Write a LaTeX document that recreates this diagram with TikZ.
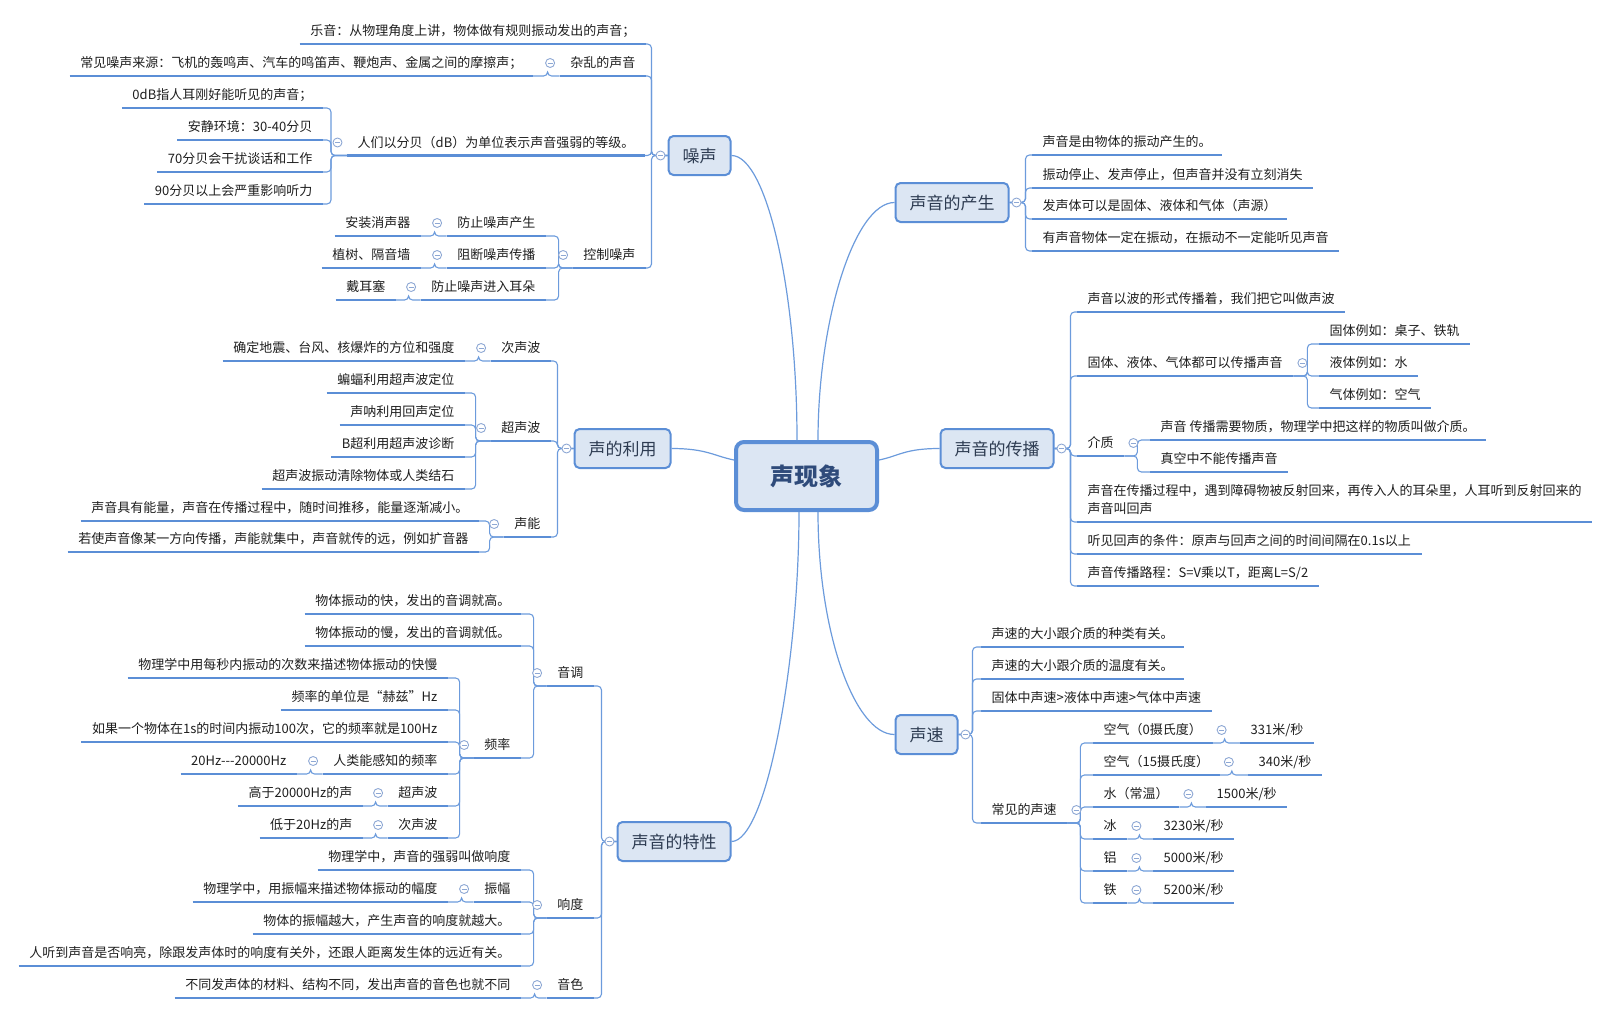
\documentclass[tikz,border=0pt]{standalone}
\usepackage{fontspec}
\setmainfont{Noto Sans CJK SC}
\usepackage{tikz}
\definecolor{lineblue}{HTML}{5B8ED6}
\definecolor{connblue}{HTML}{6C9BDC}
\definecolor{boxfill}{HTML}{DCE6F3}
\definecolor{foldblue}{HTML}{8EA8D4}
\definecolor{leaftext}{HTML}{1E1E1E}
\definecolor{topictext}{HTML}{2E3C52}
\definecolor{roottext}{HTML}{2F4B7A}
\newcommand {\leafl}[4] {\node[leaf, anchor=south east] (#1) at (#2,#3) {#4};
                         \draw[uline] (#1.south west) -- (#1.south east);}
\newcommand {\leafr}[4] {\node[leaf, anchor=south west] (#1) at (#2,#3) {#4};
                         \draw[uline] (#1.south west) -- (#1.south east);}
\newcommand {\linkl}[3] {\draw[conn] (#1.south west) -- ++(-#3,0) |- (#2.south east);}
\newcommand {\linkr}[3] {\draw[conn] (#1.south east) -- ++(#3,0) |- (#2.south west);}
\newcommand {\linkw}[3] {\draw[conn] (#1.west) -- ++(-#3,0) |- (#2.south east);}
\newcommand {\linke}[3] {\draw[conn] (#1.east) -- ++(#3,0) |- (#2.south west);}
\newcommand {\foldl}[1] {\draw[fold] ([shift={(-9.5pt,13pt)}]#1.south west) circle (4.5pt);
                         \draw[foldbar] ([shift={(-12pt,13pt)}]#1.south west) -- ++(5pt,0);}
\newcommand {\foldr}[1] {\draw[fold] ([shift={(9pt,13pt)}]#1.south east) circle (4.5pt);
                         \draw[foldbar] ([shift={(6.5pt,13pt)}]#1.south east) -- ++(5pt,0);}
\newcommand {\foldw}[1] {\draw[fold] ([xshift=-7pt]#1.west) circle (4.5pt);
                         \draw[foldbar] ([xshift=-9.5pt]#1.west) -- ++(5pt,0);}
\newcommand {\folde}[1] {\draw[fold] ([xshift=7pt]#1.east) circle (4.5pt);
                         \draw[foldbar] ([xshift=4.5pt]#1.east) -- ++(5pt,0);}
\begin{document}
\begin{tikzpicture}[x=1pt, y=-1pt,
    leaf/.style={font=\fontsize{13}{18}\selectfont, text=leaftext, inner xsep=10.5pt, inner ysep=4.6pt, text height=10pt, text depth=3.5pt},
    uline/.style={lineblue, line width=2.8pt},
    conn/.style={connblue, line width=1.1pt, rounded corners=4pt},
    mainconn/.style={connblue, line width=1.2pt},
    topic/.style={draw=lineblue, fill=boxfill, line width=2pt, rounded corners=5pt, minimum height=39pt, inner xsep=14pt, text height=15.5pt, text depth=2.5pt, font=\fontsize{17}{20}\selectfont, text=topictext},
    root/.style={draw=lineblue, fill=boxfill, line width=4pt, rounded corners=8pt, minimum width=141pt, minimum height=68pt, text height=21pt, text depth=3pt, font=\fontsize{24}{28}\selectfont\bfseries, text=roottext},
    fold/.style={foldblue, fill=white, line width=0.9pt},
    foldbar/.style={foldblue, line width=0.9pt}]
    \useasboundingbox (0,0) rectangle (1612,1015);
    \node[root] (root) at (806.5,476) {声现象};
    \node[topic] (zaosheng) at (699.5,155.5) {噪声};
    \node[topic] (liyong) at (622.5,448.5) {声的利用};
    \node[topic] (chansheng) at (952,202.5) {声音的产生};
    \node[topic] (chuanbo) at (997,448.5) {声音的传播};
    \node[topic] (shengsu) at (926.5,734.5) {声速};
    \node[topic] (texing) at (674,841.5) {声音的特性};

    \leafl{yueyin}{646}{44}{乐音：从物理角度上讲，物体做有规则振动发出的声音；}
    \leafl{zaluan}{646}{76}{杂乱的声音}
    \leafl{laiyuan}{533}{76}{常见噪声来源：飞机的轰鸣声、汽车的鸣笛声、鞭炮声、金属之间的摩擦声；}
    \leafl{fenbei}{645}{155.5}{人们以分贝（dB）为单位表示声音强弱的等级。}
    \leafl{dbzero}{323}{108}{0dB指人耳刚好能听见的声音；}
    \leafl{anjing}{323}{140}{安静环境：30-40分贝}
    \leafl{qishi}{323}{172}{70分贝会干扰谈话和工作}
    \leafl{jiushi}{323}{204}{90分贝以上会严重影响听力}
    \leafl{kongzhi}{646}{268}{控制噪声}
    \leafl{fangzhi}{546}{236}{防止噪声产生}
    \leafl{xiaosheng}{421}{236}{安装消声器}
    \leafl{zuduan}{546}{268}{阻断噪声传播}
    \leafl{zhishu}{421}{268}{植树、隔音墙}
    \leafl{jinru}{546}{300}{防止噪声进入耳朵}
    \leafl{erse}{396}{300}{戴耳塞}

    \leafl{cishengbo}{551}{361}{次声波}
    \leafl{dizhen}{465}{361}{确定地震、台风、核爆炸的方位和强度}
    \leafl{chaoshengbo}{551}{441}{超声波}
    \leafl{bianfu}{465}{393}{蝙蝠利用超声波定位}
    \leafl{shengna}{465}{425}{声呐利用回声定位}
    \leafl{bchao}{465}{457}{B超利用超声波诊断}
    \leafl{jieshi}{465}{489}{超声波振动清除物体或人类结石}
    \leafl{shengneng}{551}{537}{声能}
    \leafl{nengliang}{479}{521}{声音具有能量，声音在传播过程中，随时间推移，能量逐渐减小。}
    \leafl{kuoyin}{479}{552}{若使声音像某一方向传播，声能就集中，声音就传的远，例如扩音器}

    \leafl{yindiao}{594}{686}{音调}
    \leafl{kuai}{521}{614}{物体振动的快，发出的音调就高。}
    \leafl{man}{521}{646}{物体振动的慢，发出的音调就低。}
    \leafl{pinlv}{521}{758}{频率}
    \leafl{miaonei}{448}{678}{物理学中用每秒内振动的次数来描述物体振动的快慢}
    \leafl{hezi}{448}{710}{频率的单位是“赫兹”Hz}
    \leafl{yibai}{448}{742}{如果一个物体在1s的时间内振动100次，它的频率就是100Hz}
    \leafl{ganzhi}{448}{774}{人类能感知的频率}
    \leafl{fanwei}{297}{774}{20Hz-{}-{}-20000Hz}
    \leafl{chaosheng}{448}{806}{超声波}
    \leafl{gaoyu}{363}{806}{高于20000Hz的声}
    \leafl{cisheng}{448}{838}{次声波}
    \leafl{diyu}{363}{838}{低于20Hz的声}
    \leafl{xiangdu}{594}{918}{响度}
    \leafl{qiangruo}{521}{870}{物理学中，声音的强弱叫做响度}
    \leafl{zhenfu}{521}{902}{振幅}
    \leafl{fudu}{448}{902}{物理学中，用振幅来描述物体振动的幅度}
    \leafl{yueda}{521}{934}{物体的振幅越大，产生声音的响度就越大。}
    \leafl{xiangliang}{521}{966}{人听到声音是否响亮，除跟发声体时的响度有关外，还跟人距离发生体的远近有关。}
    \leafl{yinse}{594}{998}{音色}
    \leafl{cailiao}{521}{998}{不同发声体的材料、结构不同，发出声音的音色也就不同}

    \leafr{zhendong}{1032}{155}{声音是由物体的振动产生的。}
    \leafr{tingzhi}{1032}{188}{振动停止、发声停止，但声音并没有立刻消失}
    \leafr{shengyuan}{1032}{219}{发声体可以是固体、液体和气体（声源）}
    \leafr{tingjian}{1032}{251}{有声音物体一定在振动，在振动不一定能听见声音}

    \leafr{shengbo}{1077}{312}{声音以波的形式传播着，我们把它叫做声波}
    \leafr{ketichuan}{1077}{376}{固体、液体、气体都可以传播声音}
    \leafr{guti}{1319}{344}{固体例如：桌子、铁轨}
    \leafr{yeti}{1319}{376}{液体例如：水}
    \leafr{qiti}{1319}{408}{气体例如：空气}
    \leafr{jiezhi}{1077}{456}{介质}
    \leafr{wuzhi}{1150}{440}{声音 传播需要物质，物理学中把这样的物质叫做介质。}
    \leafr{zhenkong}{1150}{472}{真空中不能传播声音}
    \node[leaf, anchor=south west, text height=28pt] (huisheng) at (1077,522)
        {\begin{tabular}[b]{@{}l@{}}声音在传播过程中，遇到障碍物被反射回来，再传入人的耳朵里，人耳听到反射回来的\\声音叫回声\end{tabular}};
    \draw[uline] (huisheng.south west) -- (huisheng.south east);
    \leafr{tiaojian}{1077}{554}{听见回声的条件：原声与回声之间的时间间隔在0.1s以上}
    \leafr{lucheng}{1077}{586}{声音传播路程：S=V乘以T，距离L=S/2}

    \leafr{zhonglei}{981}{647}{声速的大小跟介质的种类有关。}
    \leafr{wendu}{981}{679}{声速的大小跟介质的温度有关。}
    \leafr{bijiao}{981}{711}{固体中声速>液体中声速>气体中声速}
    \leafr{changjian}{981}{823}{常见的声速}
    \leafr{kqling}{1093}{743}{空气（0摄氏度）}
    \leafr{vkqling}{1240}{743}{331米/秒}
    \leafr{kqshiwu}{1093}{775}{空气（15摄氏度）}
    \leafr{vkqshiwu}{1248}{775}{340米/秒}
    \leafr{shui}{1093}{807}{水（常温）}
    \leafr{vshui}{1206}{807}{1500米/秒}
    \leafr{bing}{1093}{839}{冰}
    \leafr{vbing}{1153}{839}{3230米/秒}
    \leafr{lv}{1093}{871}{铝}
    \leafr{vlv}{1153}{871}{5000米/秒}
    \leafr{tie}{1093}{903}{铁}
    \leafr{vtie}{1153}{903}{5200米/秒}

    \draw[mainconn] ([xshift=-9.5pt]root.north) .. controls +(0,-150) and +(35,0) .. (zaosheng.east);
    \draw[mainconn] ([xshift=11.5pt]root.north) .. controls +(0,-120) and +(-40,0) .. (chansheng.west);
    \draw[mainconn] ([yshift=16pt]root.west) .. controls +(-20,-4) and +(35,0) .. (liyong.east);
    \draw[mainconn] ([yshift=16pt]root.east) .. controls +(20,-4) and +(-35,0) .. (chuanbo.west);
    \draw[mainconn] ([xshift=-7.5pt]root.south) .. controls +(0,150) and +(35,0) .. (texing.east);
    \draw[mainconn] ([xshift=11.5pt]root.south) .. controls +(0,120) and +(-40,0) .. (shengsu.west);

    \linkw{zaosheng}{yueyin}{16}
    \linkw{zaosheng}{zaluan}{16}
    \linkw{zaosheng}{fenbei}{16}
    \linkw{zaosheng}{kongzhi}{16}
    \linkl{zaluan}{laiyuan}{12}
    \linkl{fenbei}{dbzero}{16}
    \linkl{fenbei}{anjing}{16}
    \linkl{fenbei}{qishi}{16}
    \linkl{fenbei}{jiushi}{16}
    \linkl{kongzhi}{fangzhi}{14}
    \linkl{kongzhi}{zuduan}{14}
    \linkl{kongzhi}{jinru}{14}
    \linkl{fangzhi}{xiaosheng}{12}
    \linkl{zuduan}{zhishu}{12}
    \linkl{jinru}{erse}{12}

    \linkw{liyong}{cishengbo}{16}
    \linkw{liyong}{chaoshengbo}{16}
    \linkw{liyong}{shengneng}{16}
    \linkl{cishengbo}{dizhen}{12}
    \linkl{chaoshengbo}{bianfu}{15}
    \linkl{chaoshengbo}{shengna}{15}
    \linkl{chaoshengbo}{bchao}{15}
    \linkl{chaoshengbo}{jieshi}{15}
    \linkl{shengneng}{nengliang}{14}
    \linkl{shengneng}{kuoyin}{14}

    \linkw{texing}{yindiao}{15}
    \linkw{texing}{xiangdu}{15}
    \linkw{texing}{yinse}{15}
    \linkl{yindiao}{kuai}{13}
    \linkl{yindiao}{man}{13}
    \linkl{yindiao}{pinlv}{13}
    \linkl{pinlv}{miaonei}{14}
    \linkl{pinlv}{hezi}{14}
    \linkl{pinlv}{yibai}{14}
    \linkl{pinlv}{ganzhi}{14}
    \linkl{pinlv}{chaosheng}{14}
    \linkl{pinlv}{cisheng}{14}
    \linkl{ganzhi}{fanwei}{12}
    \linkl{chaosheng}{gaoyu}{12}
    \linkl{cisheng}{diyu}{12}
    \linkl{xiangdu}{qiangruo}{13}
    \linkl{xiangdu}{zhenfu}{13}
    \linkl{xiangdu}{yueda}{13}
    \linkl{xiangdu}{xiangliang}{13}
    \linkl{zhenfu}{fudu}{12}
    \linkl{yinse}{cailiao}{12}

    \linke{chansheng}{zhendong}{16}
    \linke{chansheng}{tingzhi}{16}
    \linke{chansheng}{shengyuan}{16}
    \linke{chansheng}{tingjian}{16}

    \linke{chuanbo}{shengbo}{16}
    \linke{chuanbo}{ketichuan}{16}
    \linke{chuanbo}{jiezhi}{16}
    \linke{chuanbo}{huisheng}{16}
    \linke{chuanbo}{tiaojian}{16}
    \linke{chuanbo}{lucheng}{16}
    \linkr{ketichuan}{guti}{14}
    \linkr{ketichuan}{yeti}{14}
    \linkr{ketichuan}{qiti}{14}
    \linkr{jiezhi}{wuzhi}{13}
    \linkr{jiezhi}{zhenkong}{13}

    \linke{shengsu}{zhonglei}{14}
    \linke{shengsu}{wendu}{14}
    \linke{shengsu}{bijiao}{14}
    \linke{shengsu}{changjian}{14}
    \linkr{changjian}{kqling}{13}
    \linkr{changjian}{kqshiwu}{13}
    \linkr{changjian}{shui}{13}
    \linkr{changjian}{bing}{13}
    \linkr{changjian}{lv}{13}
    \linkr{changjian}{tie}{13}
    \linkr{kqling}{vkqling}{12}
    \linkr{kqshiwu}{vkqshiwu}{12}
    \linkr{shui}{vshui}{12}
    \linkr{bing}{vbing}{12}
    \linkr{lv}{vlv}{12}
    \linkr{tie}{vtie}{12}

    \foldw{zaosheng}
    \foldw{liyong}
    \foldw{texing}
    \folde{chansheng}
    \folde{chuanbo}
    \folde{shengsu}
    \foldl{zaluan}
    \foldl{fenbei}
    \foldl{kongzhi}
    \foldl{fangzhi}
    \foldl{zuduan}
    \foldl{jinru}
    \foldl{cishengbo}
    \foldl{chaoshengbo}
    \foldl{shengneng}
    \foldl{yindiao}
    \foldl{pinlv}
    \foldl{ganzhi}
    \foldl{chaosheng}
    \foldl{cisheng}
    \foldl{xiangdu}
    \foldl{zhenfu}
    \foldl{yinse}
    \foldr{ketichuan}
    \foldr{jiezhi}
    \foldr{changjian}
    \foldr{kqling}
    \foldr{kqshiwu}
    \foldr{shui}
    \foldr{bing}
    \foldr{lv}
    \foldr{tie}
\end{tikzpicture}
\end{document}
